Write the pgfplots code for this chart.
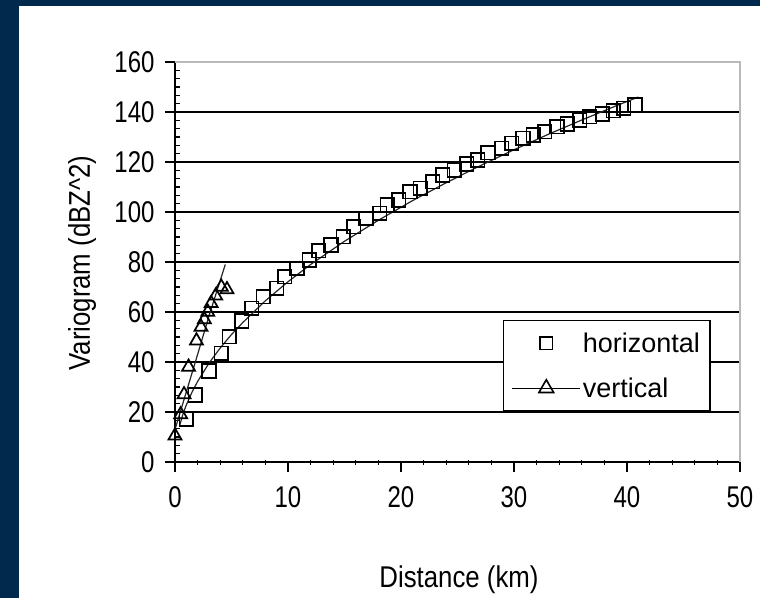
\documentclass[border=0pt]{standalone}
\usepackage{fontspec}
\setmainfont{Liberation Sans}
\newfontfamily\tickfont[FakeStretch=0.8]{Liberation Sans}
\newfontfamily\labfont[FakeStretch=0.86]{Liberation Sans}
\usepackage{pgfplots}
\pgfplotsset{compat=1.18}
\definecolor{navy}{HTML}{00294D}
\begin{document}
\begin{tikzpicture}
\useasboundingbox (0pt,0pt) rectangle (760pt,598pt);
\fill[navy] (0pt,0pt) rectangle (760pt,598pt);
\fill[white] (19pt,0pt) rectangle (760pt,592pt);
\begin{axis}[
  at={(175pt,136pt)}, anchor=south west,
  scale only axis, width=565pt, height=400pt,
  xmin=0, xmax=50, ymin=0, ymax=160,
  xtick={0,10,...,50}, ytick={0,20,...,160},
  minor x tick num=4, minor y tick num=5,
  axis lines=left, axis line style={-, line width=1.3pt, black},
  tick align=outside, major tick length=10pt, minor tick length=5pt,
  tick style={black, line width=1.2pt},
  minor y tick style={xshift=5pt},
  minor x tick style={yshift=2.5pt},
  ymajorgrids, major grid style={black, line width=1.3pt},
  /pgf/number format/assume math mode=true,
  tick label style={font=\tickfont\fontsize{30}{32}\selectfont},
  yticklabel style={xshift=-7pt},
  xticklabel style={yshift=-11pt},
  xlabel={Distance (km)}, ylabel={Variogram (dBZ\^{}2)},
  label style={font=\labfont\fontsize{30}{32}\selectfont},
  xlabel style={at={(axis description cs:0.5027,-0.295)}, anchor=center},
  ylabel style={at={(axis description cs:-0.1646,0.4975)}, anchor=center, rotate=0},
  clip=false,
  legend image code/.code={\draw[mark repeat=2,mark phase=2,#1] plot coordinates {(0pt,0pt)(34pt,0pt)(68pt,0pt)};},
  legend style={at={(0.5805,0.355)}, anchor=north west, draw=black, line width=1.3pt, fill=white,
    font=\fontsize{27}{29}\selectfont, inner xsep=8pt, inner ysep=10pt, row sep=20pt},
  legend cell align=left,
]
% horizontal trend
\addplot[black!85, line width=1.2pt, forget plot] coordinates {
(0.4,14.4) (0.7,19.1) (1,22.8) (1.5,27.9) (2,32.2) (3,39.5) (4,45.6) (5,51.0) (6,55.8)
(8,64.5) (10,72.1) (12,79.0) (15,88.3) (18,96.7) (21,104.5) (24,111.7) (27,118.5)
(30,124.9) (33,131.0) (36,136.8) (39,142.4) (41,146.0)};
% vertical trend
\addplot[black!85, line width=1.2pt, forget plot] coordinates {
(0,13) (1,28) (2,43) (3,58.3) (4.45,79)};
% horizontal data
\addplot[black, only marks, mark=square, mark size=6.8pt, mark options={line width=1.6pt}, forget plot] coordinates {
(1.0,17.2) (1.8,26.8) (3.0,36.4) (4.1,43.5) (4.8,50.1) (5.9,56.4) (6.8,61.5) (7.8,66.1)
(9.0,69.5) (9.7,74.1) (10.8,77.5) (11.9,80.8) (12.7,84.5) (13.8,86.8) (14.9,90.1) (15.8,94.1)
(16.9,97.5) (18.1,99.5) (18.8,102.8) (19.8,104.8) (20.8,108.1) (21.7,109.5) (22.8,112.1)
(23.7,114.8) (24.7,116.8) (25.8,119.2) (26.8,120.8) (27.7,123.7) (28.9,125.5) (29.8,127.5)
(30.8,129.5) (31.7,130.8) (32.7,132.1) (33.8,134.1) (34.7,135.2) (35.8,136.8) (36.7,138.1)
(37.8,139.2) (38.8,140.5) (39.7,141.5) (40.7,142.8)};
% vertical data
\addplot[black, only marks, mark=triangle, mark size=7.5pt, mark options={line width=1.7pt}, forget plot] coordinates {
(0,10.5) (0.5,19) (0.8,27) (1.2,38) (1.9,48.5) (2.3,54) (2.6,57) (2.9,60) (3.2,63.5)
(3.6,66.5) (4.1,70) (4.6,69)};
\addlegendimage{black, only marks, mark=square, mark size=6.3pt, line width=1.6pt}
\addlegendentry{horizontal}
\addlegendimage{black, mark=triangle, mark size=8.5pt, line width=1.3pt, mark options={line width=1.6pt}}
\addlegendentry{vertical}
\draw[gray!55, line width=1.5pt] (rel axis cs:0,1) -- (rel axis cs:1,1) -- (rel axis cs:1,0);
\end{axis}
\end{tikzpicture}
\end{document}
